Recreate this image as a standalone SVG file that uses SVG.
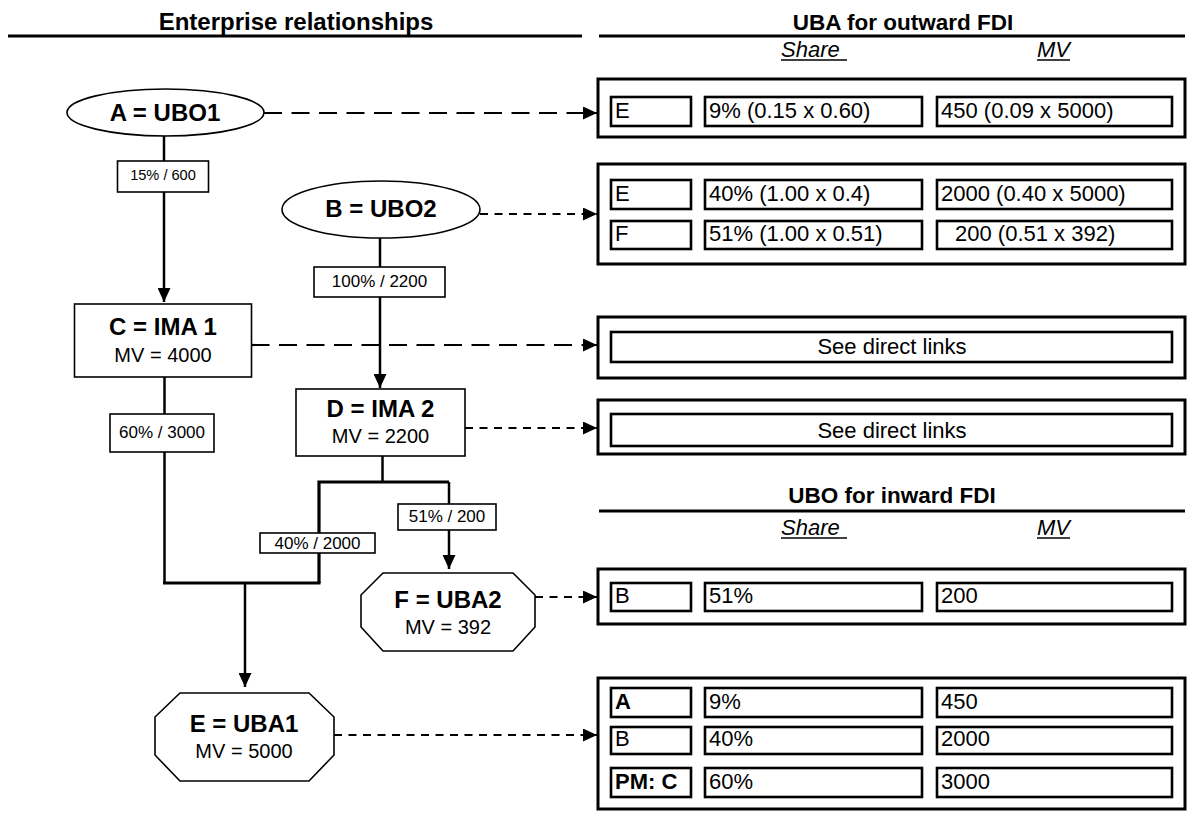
<svg xmlns="http://www.w3.org/2000/svg" width="1196" height="831" viewBox="0 0 1196 831">
<style>
text{font-family:"Liberation Sans",Arial,sans-serif;fill:#000}
.title{font-size:24px;font-weight:bold;text-anchor:middle}
.rtitle{font-size:22.5px;font-weight:bold;text-anchor:middle}
.colh{font-size:22px;font-style:italic}
.nname{font-size:24px;font-weight:bold;text-anchor:middle}
.nmv{font-size:20px;text-anchor:middle}
.lbl{font-size:17px;text-anchor:middle}
.cell{font-size:22px}
.cellc{font-size:22px;text-anchor:middle}
.b{font-weight:bold}
.node{fill:#fff;stroke:#000;stroke-width:1.6}
.solid{fill:none;stroke:#000;stroke-width:2.5}
.bar{fill:none;stroke:#000;stroke-width:3.2}
.dl{fill:none;stroke:#000;stroke-width:2.2;stroke-dasharray:18 9.5}
.ds{fill:none;stroke:#000;stroke-width:2.2;stroke-dasharray:8 6.5}
.lblbox{fill:#fff;stroke:#000;stroke-width:1.6}
.outer{fill:#fff;stroke:#000;stroke-width:3}
.cb{fill:#fff;stroke:#000;stroke-width:2.6}
.rule{stroke:#000;stroke-width:3}
.ul{stroke:#000;stroke-width:1.5}
</style>
<defs>
<marker id="arr" markerUnits="userSpaceOnUse" viewBox="0 0 14 13" markerWidth="14" markerHeight="13" refX="14" refY="6.5" orient="auto">
<path d="M0,0 L14,6.5 L0,13 z" fill="#000"/>
</marker>
</defs>
<rect width="1196" height="831" fill="#fff"/>

<g id="headers">
<text class="title" x="296" y="30">Enterprise relationships</text>
<line class="rule" x1="8" y1="36" x2="582" y2="36"/>
<text class="rtitle" x="903" y="30">UBA for outward FDI</text>
<line class="rule" x1="599" y1="36" x2="1185" y2="36"/>
<text class="colh" x="781" y="57">Share</text>
<line class="ul" x1="781" y1="60" x2="847" y2="60"/>
<text class="colh" x="1037" y="57">MV</text>
<line class="ul" x1="1037" y1="60" x2="1070" y2="60"/>
<text class="rtitle" x="892" y="503">UBO for inward FDI</text>
<line class="rule" x1="599" y1="511" x2="1185" y2="511"/>
<text class="colh" x="781" y="535">Share</text>
<line class="ul" x1="781" y1="538" x2="847" y2="538"/>
<text class="colh" x="1037" y="535">MV</text>
<line class="ul" x1="1037" y1="538" x2="1070" y2="538"/>
</g>

<g id="connectors">
<line class="solid" x1="164" y1="136" x2="164" y2="302" marker-end="url(#arr)"/>
<line class="solid" x1="380" y1="238" x2="380" y2="388" marker-end="url(#arr)"/>
<polyline class="solid" points="164.5,377 164.5,583"/>
<polyline class="solid" points="382.5,456 382.5,482"/>
<polyline class="bar" points="319,583 319,482 449,482"/>
<line class="solid" x1="449" y1="482" x2="449" y2="569" marker-end="url(#arr)"/>
<line class="bar" x1="163" y1="583" x2="320.5" y2="583"/>
<line class="solid" x1="245" y1="583" x2="245" y2="687" marker-end="url(#arr)"/>
<line class="dl" x1="264" y1="113" x2="597" y2="113" marker-end="url(#arr)"/>
<line class="ds" x1="480" y1="214" x2="597" y2="214" marker-end="url(#arr)"/>
<line class="dl" x1="251.5" y1="345" x2="597" y2="345" marker-end="url(#arr)"/>
<line class="ds" x1="465" y1="428" x2="597" y2="428" marker-end="url(#arr)"/>
<line class="ds" x1="535" y1="597" x2="597" y2="597" marker-end="url(#arr)"/>
<line class="ds" x1="334" y1="735" x2="597" y2="735" marker-end="url(#arr)"/>
<g id="edge-labels">
<rect class="lblbox" x="117.5" y="161" width="91" height="31"/>
<text class="lbl" x="163" y="180" style="font-size:14.6px">15% / 600</text>
<rect class="lblbox" x="314" y="267" width="131" height="30"/>
<text class="lbl" x="379.5" y="287">100% / 2200</text>
<rect class="lblbox" x="110" y="414" width="104" height="38"/>
<text class="lbl" x="162" y="438">60% / 3000</text>
<rect class="lblbox" x="398" y="504" width="98" height="26"/>
<text class="lbl" x="447" y="522">51% / 200</text>
<rect class="lblbox" x="260" y="533" width="115" height="20"/>
<text class="lbl" x="317.5" y="549">40% / 2000</text>
</g>
</g>

<g id="node-A">
<ellipse class="node" cx="165.5" cy="112.5" rx="98.5" ry="23.5"/>
<text class="nname" x="165" y="121">A = UBO1</text>
</g>
<g id="node-B">
<ellipse class="node" cx="381" cy="209.5" rx="99" ry="28.5"/>
<text class="nname" x="381" y="217">B = UBO2</text>
</g>
<g id="node-C">
<rect class="node" x="74.5" y="304" width="177" height="73"/>
<text class="nname" x="163" y="335">C = IMA 1</text>
<text class="nmv" x="163" y="362">MV = 4000</text>
</g>
<g id="node-D">
<rect class="node" x="296" y="389" width="169" height="67"/>
<text class="nname" x="380.5" y="417">D = IMA 2</text>
<text class="nmv" x="380.5" y="443">MV = 2200</text>
</g>
<g id="node-F">
<polygon class="node" points="383,573 513,573 535,595 535,627 513,651 383,651 361,627 361,595"/>
<text class="nname" x="448" y="608">F = UBA2</text>
<text class="nmv" x="448" y="634">MV = 392</text>
</g>
<g id="node-E">
<polygon class="node" points="180,693 309,693 334,717 334,755 309,781 180,781 155,755 155,717"/>
<text class="nname" x="244" y="732">E = UBA1</text>
<text class="nmv" x="244" y="758">MV = 5000</text>
</g>

<g id="panel-A">
<rect class="outer" x="598" y="79" width="587" height="58"/>
<rect class="cb" x="611" y="97" width="80" height="29"/>
<rect class="cb" x="705" y="97" width="217" height="29"/>
<rect class="cb" x="937" y="97" width="235" height="29"/>
<text class="cell" x="615" y="117.5">E</text>
<text class="cell" x="709" y="117.5">9% (0.15 x 0.60)</text>
<text class="cell" x="941" y="117.5">450 (0.09 x 5000)</text>
</g>
<g id="panel-B">
<rect class="outer" x="598" y="164" width="587" height="100"/>
<rect class="cb" x="611" y="180" width="80" height="29"/>
<rect class="cb" x="705" y="180" width="217" height="29"/>
<rect class="cb" x="937" y="180" width="235" height="29"/>
<rect class="cb" x="611" y="221" width="80" height="28"/>
<rect class="cb" x="705" y="221" width="217" height="28"/>
<rect class="cb" x="937" y="221" width="235" height="28"/>
<text class="cell" x="615" y="200.5">E</text>
<text class="cell" x="709" y="200.5">40% (1.00 x 0.4)</text>
<text class="cell" x="941" y="200.5">2000 (0.40 x 5000)</text>
<text class="cell" x="615" y="240.5">F</text>
<text class="cell" x="709" y="240.5">51% (1.00 x 0.51)</text>
<text class="cell" x="955" y="240.5">200 (0.51 x 392)</text>
</g>
<g id="panel-C">
<rect class="outer" x="598" y="317" width="587" height="61"/>
<rect class="cb" x="611" y="332" width="561" height="30"/>
<text class="cellc" x="892" y="354">See direct links</text>
</g>
<g id="panel-D">
<rect class="outer" x="598" y="400" width="587" height="54"/>
<rect class="cb" x="611" y="414" width="561" height="32"/>
<text class="cellc" x="892" y="438">See direct links</text>
</g>
<g id="panel-F">
<rect class="outer" x="598" y="569" width="587" height="55"/>
<rect class="cb" x="611" y="583" width="80" height="28"/>
<rect class="cb" x="705" y="583" width="217" height="28"/>
<rect class="cb" x="937" y="583" width="235" height="28"/>
<text class="cell" x="615" y="602.5">B</text>
<text class="cell" x="709" y="602.5">51%</text>
<text class="cell" x="941" y="602.5">200</text>
</g>
<g id="panel-E">
<rect class="outer" x="598" y="678" width="587" height="131"/>
<rect class="cb" x="611" y="688" width="80" height="29"/>
<rect class="cb" x="705" y="688" width="217" height="29"/>
<rect class="cb" x="937" y="688" width="235" height="29"/>
<rect class="cb" x="611" y="727" width="80" height="27"/>
<rect class="cb" x="705" y="727" width="217" height="27"/>
<rect class="cb" x="937" y="727" width="235" height="27"/>
<rect class="cb" x="611" y="768" width="80" height="29"/>
<rect class="cb" x="705" y="768" width="217" height="29"/>
<rect class="cb" x="937" y="768" width="235" height="29"/>
<text class="cell b" x="615" y="708.5">A</text>
<text class="cell" x="709" y="708.5">9%</text>
<text class="cell" x="941" y="708.5">450</text>
<text class="cell" x="615" y="745.5">B</text>
<text class="cell" x="709" y="745.5">40%</text>
<text class="cell" x="941" y="745.5">2000</text>
<text class="cell b" x="615" y="788.5">PM: C</text>
<text class="cell" x="709" y="788.5">60%</text>
<text class="cell" x="941" y="788.5">3000</text>
</g>
</svg>
